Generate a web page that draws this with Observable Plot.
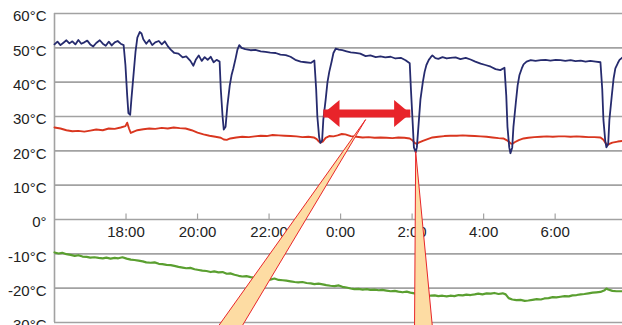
<!DOCTYPE html>
<html><head><meta charset="utf-8">
<script src="https://cdn.jsdelivr.net/npm/d3@7"></script>
<script src="https://cdn.jsdelivr.net/npm/@observablehq/plot@0.6"></script>
<style>html,body{margin:0;padding:0;background:#fff;overflow:hidden;} #chart{width:622px;height:325px;overflow:hidden;}</style>
</head><body><div id="chart"></div>
<script>
// x positions are minutes since 16:00
const xTickMinutes = [120, 240, 360, 480, 600, 720, 840];
const xTickLabels = ["18:00", "20:00", "22:00", "0:00", "2:00", "4:00", "6:00"];
const yTicks = [-30, -20, -10, 0, 10, 20, 30, 40, 50, 60];
const yTickLabels = ["-30°C", "-20°C", "-10°C", "0°", "10°C", "20°C", "30°C", "40°C", "50°C", "60°C"];

const blueMinutes = [0,5,10,15,20,25,30,35,40,45,50,55,60,65,70,76,81,86,91,96,101,106,111,116,119,122,124,127,129,133,136,139,143,146,149,154,159,164,169,175,180,185,190,195,201,208,215,221,228,233,237,242,247,252,257,262,267,272,277,279,282,284,287,290,294,297,300,304,307,310,314,320,329,337,346,354,362,371,379,388,396,404,413,421,430,436,439,441,444,446,449,451,455,458,461,465,468,472,477,483,490,497,505,513,522,530,539,547,555,564,572,581,589,596,598,601,603,606,608,611,614,618,621,624,628,631,634,639,644,651,658,664,673,681,690,698,706,715,723,732,740,748,755,758,760,763,765,768,770,774,777,780,784,787,792,799,807,816,824,832,841,849,857,866,874,883,891,899,908,916,919,921,924,926,929,931,935,938,941,945,948,953];
const blueTemps = [51.0,51.8,50.8,51.5,52.2,51.3,51.9,51.0,52.3,51.2,51.6,52.1,51.0,50.4,51.4,52.2,51.2,50.6,51.8,50.7,51.6,52.0,51.2,50.8,45,36,31.0,30.5,35,43,49,53,54.6,54.2,52.5,51.2,52.3,50.8,51.6,52.0,51.0,51.9,50.5,49.5,48.5,48.3,47.2,47.5,46.2,44.8,46.5,47.8,46.2,47.3,46.5,47.4,45.8,46.5,46.0,38,30,26.2,27,33,39,42,44,47,49.5,50.8,50.0,49.6,49.3,49.4,49.0,48.8,48.6,48.5,48.0,47.9,47.4,46.5,46.0,45.8,45.6,46.3,38,30,24,22.3,23,29,35,40,43,46,48.5,49.8,49.5,49.3,49.0,48.7,48.5,48.3,47.6,47.8,47.3,47.5,47.2,47.4,46.9,47.1,46.4,45.5,38,28,21,19.6,21,28,35,40,43,45,46.5,47.2,47.8,47.0,46.8,47.3,46.9,47.1,47.2,46.7,47.1,46.6,46.0,45.4,45.0,44.5,43.8,43.5,44.2,36,27,21,19.3,21,27,34,39,42,44,45.2,46.0,46.4,46.2,46.4,46.5,46.3,46.5,46.4,46.2,46.4,46.1,46.3,46.0,46.2,46.0,45.8,38,29,23,21.0,22,29,36,41,44,45.5,46.5,47.2];

const redMinutes = [0,10,20,30,40,50,60,70,81,91,101,111,119,122,125,128,133,139,149,159,169,180,190,200,210,220,230,240,250,260,270,279,284,289,295,305,315,326,336,346,356,366,376,386,396,406,416,426,435,440,443,446,450,455,461,468,475,482,488,497,507,517,527,537,547,557,567,577,587,596,601,604,608,611,618,626,634,644,654,664,675,685,695,705,715,725,735,745,753,760,765,768,772,779,787,795,805,816,826,836,846,856,866,876,886,896,906,916,921,924,928,931,936,945,953];
const redTemps = [26.8,26.5,26.0,25.7,25.8,25.6,25.9,26.2,26.0,26.5,26.4,26.8,27.2,28.2,26.5,25.2,25.6,26.0,26.3,26.5,26.4,26.7,26.5,26.8,26.6,26.5,26.0,25.3,24.8,24.4,24.1,23.8,23.3,23.2,23.6,23.9,24.1,24.0,24.2,24.4,24.3,24.6,24.5,24.4,24.3,24.2,24.0,24.1,23.9,23.4,22.8,22.4,22.7,23.8,24.3,24.2,24.5,24.9,24.8,24.3,24.1,23.9,24.0,23.8,23.9,23.8,23.7,23.9,23.8,23.6,23.0,22.3,22.0,22.4,22.9,23.4,23.9,24.1,24.3,24.4,24.4,24.5,24.4,24.3,24.2,24.1,23.9,23.7,23.6,23.0,22.2,22.0,22.5,23.1,23.6,23.8,24.0,24.1,24.2,24.1,24.2,24.2,24.1,24.2,24.1,24.0,24.0,23.9,23.2,22.4,21.7,22.0,22.4,22.7,22.9];

const greenMinutes = [0,7,13,20,27,34,40,47,54,60,67,74,81,87,94,101,107,114,121,128,134,141,148,154,161,168,175,181,188,195,201,208,215,221,228,235,242,248,255,262,268,275,282,289,295,302,309,315,322,329,336,342,349,356,362,369,376,383,389,396,403,409,416,423,430,436,443,450,456,463,470,477,483,490,497,503,510,517,524,530,537,544,550,557,564,571,577,584,591,597,604,611,618,624,631,638,644,651,658,664,671,678,685,691,698,705,711,718,725,732,738,745,752,757,762,768,775,782,789,795,802,809,816,822,829,836,842,849,856,863,869,876,883,889,896,903,909,916,923,926,929,936,943,953];
const greenTemps = [-9.6,-9.9,-9.7,-10.1,-10.3,-10.6,-10.4,-10.8,-10.9,-11.1,-11.0,-11.2,-11.3,-11.1,-11.4,-11.2,-11.3,-11.0,-11.4,-11.7,-11.8,-12.0,-12.2,-12.5,-12.6,-12.5,-12.9,-13.0,-13.2,-13.3,-13.5,-13.8,-14.0,-14.2,-14.1,-14.5,-14.7,-14.9,-15.0,-15.3,-15.1,-15.4,-15.3,-15.8,-15.7,-16.1,-16.4,-16.6,-16.5,-16.8,-17.0,-17.2,-17.1,-17.3,-17.5,-17.2,-17.6,-17.7,-17.8,-18.0,-18.2,-18.3,-18.2,-18.5,-18.6,-18.8,-18.7,-18.9,-19.1,-19.3,-19.4,-19.2,-19.6,-19.8,-20.1,-20.3,-20.2,-20.4,-20.3,-20.5,-20.4,-20.6,-20.5,-20.7,-20.9,-20.8,-21.0,-21.2,-21.0,-21.3,-21.5,-21.8,-21.6,-22.0,-22.2,-22.1,-22.3,-22.2,-22.4,-22.2,-22.3,-22.0,-22.1,-21.9,-22.0,-21.8,-21.6,-21.8,-21.5,-21.6,-21.4,-21.7,-21.5,-21.8,-22.9,-23.3,-23.5,-23.4,-23.7,-23.6,-23.4,-23.2,-23.3,-23.0,-22.9,-22.6,-22.7,-22.5,-22.3,-22.4,-22.1,-22.0,-21.8,-21.7,-21.5,-21.3,-21.2,-21.1,-20.6,-20.1,-20.4,-20.8,-20.9,-20.9];

// annotation: double arrow and two callout wedges
const arrowMinutes = [451, 597];
const arrowTemp = 30.9;
const wedge1Minutes = [267, 522, 308];
const wedge1Temps = [-33, 29.1, -33];
const wedge2Minutes = [604, 606, 635];
const wedge2Temps = [-33, 19.8, -33];

const zip = (xs, ys) => xs.map((m, i) => ({m, t: ys[i]}));
const blue = zip(blueMinutes, blueTemps);
const red = zip(redMinutes, redTemps);
const green = zip(greenMinutes, greenTemps);
const wedge1 = zip(wedge1Minutes, wedge1Temps);
const wedge2 = zip(wedge2Minutes, wedge2Temps);
const heads = [{m: arrowMinutes[0], rot: 180}, {m: arrowMinutes[1], rot: 0}];

const headSymbol = {
  draw(ctx, size) {
    const r = Math.sqrt(size / Math.PI);
    ctx.moveTo(0, 0);
    ctx.lineTo(-1.2 * r, -r);
    ctx.lineTo(-1.2 * r, r);
    ctx.closePath();
  }
};

const grid = "#a2a2a2";
const chart = Plot.plot({
  width: 622,
  height: 325,
  marginLeft: 54,
  marginRight: 0,
  marginTop: 13,
  marginBottom: 3,
  style: {fontFamily: "'Liberation Sans', Arial, sans-serif", color: "#222", background: "#fff"},
  x: {domain: [0, 953], axis: null},
  y: {domain: [-30, 60], axis: null},
  marks: [
    Plot.ruleY(yTicks, {stroke: grid, strokeWidth: 1.6}),
    Plot.ruleX([0], {stroke: grid, strokeWidth: 1.6}),
    Plot.ruleX(xTickMinutes, {x: d => d, y1: 0, y2: 1.6, stroke: grid, strokeWidth: 1.2}),
    Plot.axisY(yTicks, {anchor: "left", label: null, tickSize: 0, tickPadding: 8, fontSize: 15, dy: 3,
      tickFormat: (d) => yTickLabels[yTicks.indexOf(d)]}),
    Plot.text(xTickMinutes, {x: d => d, y: 0, text: (d, i) => xTickLabels[i], dy: 13, fontSize: 15, fill: "#222", lineAnchor: "middle"}),
    Plot.line(green, {x: "m", y: "t", stroke: "#5a9f30", strokeWidth: 2.2}),
    Plot.line(red, {x: "m", y: "t", stroke: "#d9361f", strokeWidth: 1.9}),
    Plot.line(blue, {x: "m", y: "t", stroke: "#262b6e", strokeWidth: 1.8}),
    Plot.link([arrowTemp], {x1: arrowMinutes[0], x2: arrowMinutes[1], y1: d => d, y2: d => d, stroke: "#e8242a", strokeWidth: 8}),
    Plot.dot(heads, {x: "m", y: () => arrowTemp, symbol: headSymbol, r: 13.5, fill: "#e8242a", stroke: null, rotate: "rot"}),
    Plot.line(wedge1, {x: "m", y: "t", fill: "#fddca3", stroke: "#e8262a", strokeWidth: 1}),
    Plot.line(wedge2, {x: "m", y: "t", fill: "#fddca3", stroke: "#e8262a", strokeWidth: 1})
  ]
});
document.getElementById("chart").appendChild(chart);
</script>
</body></html>
